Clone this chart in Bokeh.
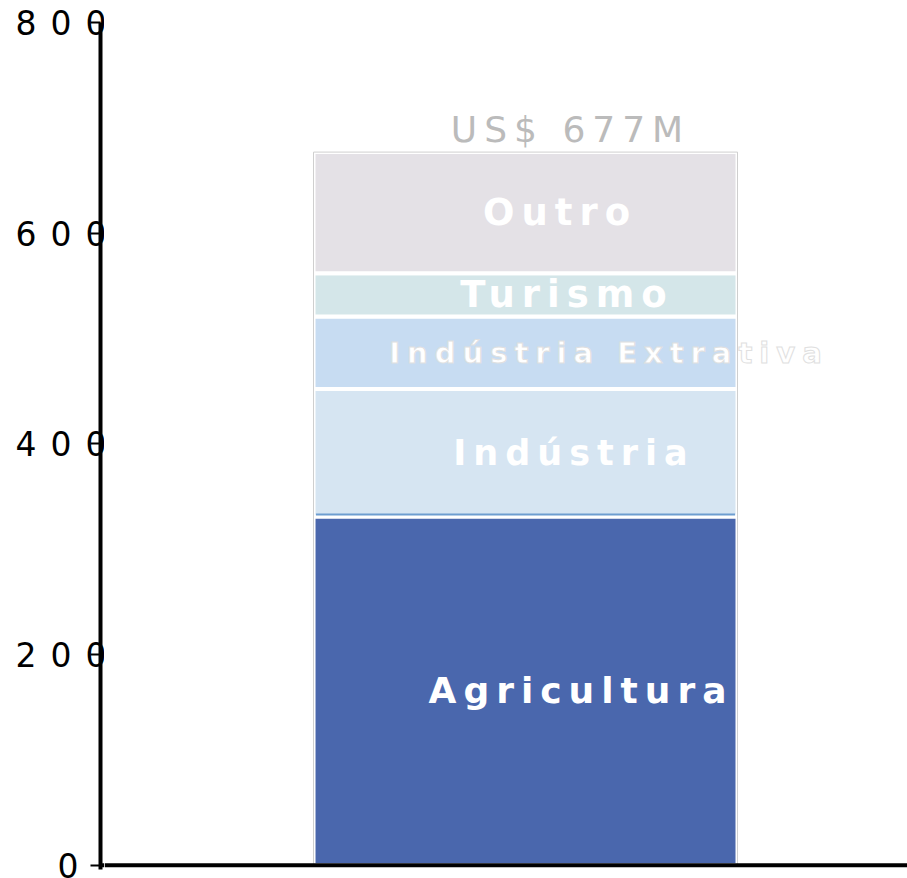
from bokeh.plotting import figure
from bokeh.layouts import row
from bokeh.models import Range1d, Span, FixedTicker, ColumnDataSource
from bokeh.embed import file_html
from bokeh.resources import INLINE
from bokeh.core.properties import value

# ---- data ----
sectors = ["Agricultura", "Indústria", "Indústria Extrativa", "Turismo", "Outro"]
values = [331, 121, 69, 41, 115]
colors = ["#4a67ad", "#d6e5f2", "#c7dcf2", "#d4e6e9", "#e4e1e6"]
total_label = "US$ 677M"
y_ticks = [0, 200, 400, 600, 800]

# ---- styles ----
label_sizes = ["36px", "35px", "29px", "37px", "37px"]
label_outline = ["rgba(0,0,0,0)", "rgba(0,0,0,0)", "#e0e0e0", "rgba(0,0,0,0)", "rgba(0,0,0,0)"]

# ---- derived ----
bottoms, tops = [], []
acc = 0
for v in values:
    bottoms.append(acc)
    acc += v
    tops.append(acc)
total = acc
mids = [(b + t) / 2 for b, t in zip(bottoms, tops)]

BAR_X = 0.5243
BAR_W = 0.528
Y0, Y1 = -4, 800
H = 878
common = dict(height=H, output_backend="svg", toolbar_location=None,
              y_range=Range1d(Y0, Y1), min_border_top=22, min_border_bottom=9,
              min_border_right=0)

# ---- axis plot (left) ----
pa = figure(width=104, x_range=Range1d(0, 1), min_border_left=100, **common)
pa.xaxis.visible = False
pa.xgrid.visible = False
pa.ygrid.visible = False
pa.outline_line_color = None
ya = pa.yaxis[0]
ya.ticker = FixedTicker(ticks=y_ticks)
ya.axis_line_width = 4
ya.axis_line_color = "black"
ya.major_tick_out = 10
ya.major_tick_in = 0
ya.major_tick_line_width = 2
ya.major_tick_line_color = "black"
ya.minor_tick_line_color = None
ya.major_label_text_font = "DejaVu Sans"
ya.major_label_text_font_size = "33px"
ya.major_label_text_color = "black"
ya.major_label_standoff = 12
pa.add_layout(Span(location=0, dimension="width", line_color="black", line_width=4))
pa.styles = {"letter-spacing": "14px"}

# ---- main plot ----
src = ColumnDataSource(dict(sector=sectors, bottom=bottoms, top=tops, mid=mids,
                            color=colors, x=[BAR_X] * len(sectors),
                            size=label_sizes, outline=label_outline))

p = figure(width=803, x_range=Range1d(0, 1), min_border_left=0, **common)
p.xaxis.visible = False
p.yaxis.visible = False
p.xgrid.visible = False
p.ygrid.visible = False
p.outline_line_color = None

p.vbar(x="x", width=BAR_W, bottom="bottom", top="top", fill_color="color",
       line_color="white", line_width=4, source=src)
p.vbar(x=BAR_X, width=BAR_W, bottom=0, top=total, fill_color=None,
       line_color="#cfcfcf", line_width=1)
# thin blue edge at the bottom of the second segment
p.segment(x0=[BAR_X - BAR_W / 2 + 0.003], x1=[BAR_X + BAR_W / 2 - 0.003],
          y0=[bottoms[1] + 2], y1=[bottoms[1] + 2], line_color="#6d9dd0", line_width=2)

p.add_layout(Span(location=0, dimension="width", line_color="black", line_width=4))

p.text(x="x", y="mid", text="sector", source=src, text_align="center",
       text_baseline="middle", text_color="white", text_font=value("DejaVu Sans"),
       text_font_style="bold", text_font_size="size", text_outline_color="outline",
       x_offset=17)

p.text(x=[BAR_X], y=[total + 21], text=[total_label], text_align="center",
       text_baseline="middle", text_color="#bbbbbb", text_font=value("DejaVu Sans"),
       text_font_size="36px", x_offset=17)
p.styles = {"letter-spacing": "7px"}

layout = row(pa, p, spacing=0)
open("out.html", "w").write(file_html(layout, INLINE))
